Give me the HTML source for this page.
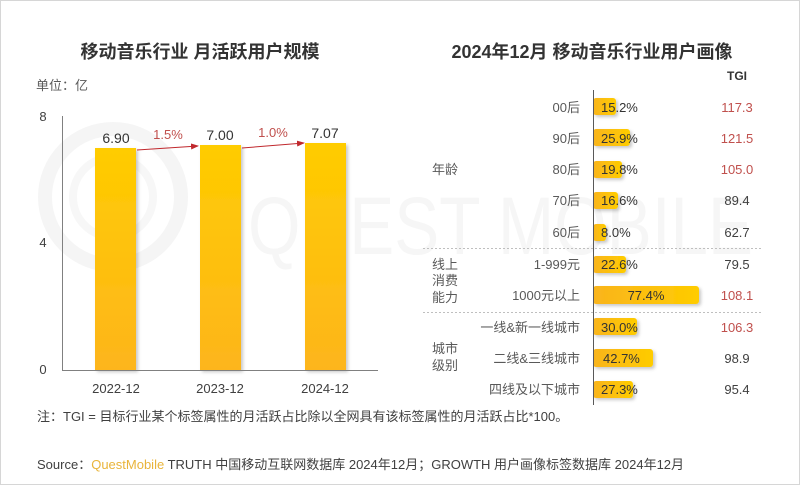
<!DOCTYPE html>
<html><head><meta charset="utf-8">
<style>
html,body{margin:0;padding:0;background:#fff;}
svg{display:block;}
text{font-family:"Liberation Sans","Noto Sans CJK SC",sans-serif;}
</style></head>
<body>
<svg width="800" height="485" viewBox="0 0 800 485" xmlns="http://www.w3.org/2000/svg">
<defs>
<linearGradient id="vg" x1="0" y1="0" x2="0" y2="1">
<stop offset="0" stop-color="#FFCC00"/><stop offset="1" stop-color="#FDB51C"/>
</linearGradient>
<linearGradient id="hg" x1="0" y1="0" x2="1" y2="0">
<stop offset="0" stop-color="#F9B41C"/><stop offset="1" stop-color="#FFCC00"/>
</linearGradient>
<filter id="sh" x="-20%" y="-20%" width="150%" height="150%">
<feDropShadow dx="2" dy="2" stdDeviation="1.5" flood-color="#000" flood-opacity="0.22"/>
</filter>
<marker id="ah" markerWidth="8" markerHeight="8" refX="7" refY="4" orient="auto" markerUnits="userSpaceOnUse">
<path d="M0,1 L8,4 L0,7 Z" fill="#C0282D"/>
</marker>
</defs>
<rect x="0.5" y="0.5" width="799" height="484" fill="#fff" stroke="#d6d6d6"/>

<!-- watermark -->
<g>
<circle cx="113" cy="197" r="68" fill="none" stroke="#f5f5f5" stroke-width="14"/>
<circle cx="113" cy="197" r="40" fill="none" stroke="#f7f7f7" stroke-width="8"/>
<text x="248" y="254" font-size="82" fill="#f6f6f6" textLength="505" lengthAdjust="spacingAndGlyphs" style="font-family:'Liberation Sans',sans-serif">QUEST MOBILE</text>
</g>

<!-- LEFT CHART -->
<text x="200" y="58" font-size="18" font-weight="700" fill="#333" text-anchor="middle">移动音乐行业 月活跃用户规模</text>
<text x="36" y="90" font-size="13" fill="#595959">单位：亿</text>

<text x="43" y="121" font-size="13" fill="#404040" text-anchor="middle">8</text>
<text x="43" y="247" font-size="13" fill="#404040" text-anchor="middle">4</text>
<text x="43" y="374" font-size="13" fill="#404040" text-anchor="middle">0</text>

<rect x="95" y="148" width="41" height="222" fill="url(#vg)" filter="url(#sh)"/>
<rect x="200" y="145" width="41" height="225" fill="url(#vg)" filter="url(#sh)"/>
<rect x="305" y="143" width="41" height="227" fill="url(#vg)" filter="url(#sh)"/>

<line x1="62.5" y1="116" x2="62.5" y2="370" stroke="#808080" stroke-width="1"/>
<line x1="62" y1="370.5" x2="378" y2="370.5" stroke="#808080" stroke-width="1"/>

<text x="116" y="143" font-size="14" fill="#333" text-anchor="middle">6.90</text>
<text x="220" y="140" font-size="14" fill="#333" text-anchor="middle">7.00</text>
<text x="325" y="138" font-size="14" fill="#333" text-anchor="middle">7.07</text>

<line x1="137" y1="150" x2="198" y2="146" stroke="#C0282D" stroke-width="1" marker-end="url(#ah)"/>
<line x1="242" y1="148" x2="304" y2="143" stroke="#C0282D" stroke-width="1" marker-end="url(#ah)"/>
<text x="168" y="139" font-size="13" fill="#C0504D" text-anchor="middle">1.5%</text>
<text x="273" y="137" font-size="13" fill="#C0504D" text-anchor="middle">1.0%</text>

<text x="116" y="393" font-size="13" fill="#404040" text-anchor="middle">2022-12</text>
<text x="220" y="393" font-size="13" fill="#404040" text-anchor="middle">2023-12</text>
<text x="325" y="393" font-size="13" fill="#404040" text-anchor="middle">2024-12</text>

<text x="37" y="421" font-size="13" fill="#404040">注：TGI = 目标行业某个标签属性的月活跃占比除以全网具有该标签属性的月活跃占比*100。</text>
<text x="37" y="469" font-size="13" fill="#404040">Source：<tspan fill="#E9B43A">QuestMobile</tspan> TRUTH 中国移动互联网数据库 2024年12月；GROWTH 用户画像标签数据库 2024年12月</text>

<!-- RIGHT CHART -->
<text x="592" y="58" font-size="18" font-weight="700" fill="#333" text-anchor="middle">2024年12月 移动音乐行业用户画像</text>
<text x="737" y="80" font-size="12" font-weight="700" fill="#333" text-anchor="middle">TGI</text>

<line x1="423" y1="248.5" x2="763" y2="248.5" stroke="#bfbfbf" stroke-dasharray="2,2"/>
<line x1="423" y1="312.5" x2="763" y2="312.5" stroke="#bfbfbf" stroke-dasharray="2,2"/>

<g font-size="13" fill="#595959" text-anchor="end">
<text x="580" y="112">00后</text>
<text x="580" y="143">90后</text>
<text x="580" y="174">80后</text>
<text x="580" y="205">70后</text>
<text x="580" y="237">60后</text>
<text x="580" y="269">1-999元</text>
<text x="580" y="300">1000元以上</text>
<text x="580" y="332">一线&amp;新一线城市</text>
<text x="580" y="363">二线&amp;三线城市</text>
<text x="580" y="394">四线及以下城市</text>
</g>
<g font-size="13" fill="#595959">
<text x="432" y="174">年龄</text>
<text x="432" y="269">线上</text>
<text x="432" y="285">消费</text>
<text x="432" y="302">能力</text>
<text x="432" y="353">城市</text>
<text x="432" y="370">级别</text>
</g>

<g filter="url(#sh)">
<rect x="593" y="98" width="23" height="17" rx="3" fill="url(#hg)"/>
<rect x="593" y="129" width="37" height="17" rx="3" fill="url(#hg)"/>
<rect x="593" y="161" width="29" height="17" rx="3" fill="url(#hg)"/>
<rect x="593" y="192" width="25" height="17" rx="3" fill="url(#hg)"/>
<rect x="593" y="224" width="13" height="17" rx="3" fill="url(#hg)"/>
<rect x="593" y="256" width="33" height="17" rx="3" fill="url(#hg)"/>
<rect x="593" y="286" width="106" height="18" rx="3" fill="url(#hg)"/>
<rect x="593" y="318" width="44" height="17" rx="3" fill="url(#hg)"/>
<rect x="593" y="349" width="60" height="18" rx="3" fill="url(#hg)"/>
<rect x="593" y="381" width="40" height="17" rx="3" fill="url(#hg)"/>
</g>
<line x1="593.5" y1="90" x2="593.5" y2="405" stroke="#595959" stroke-width="1"/>

<g font-size="13" fill="#333">
<text x="601" y="112">15.2%</text>
<text x="601" y="143">25.9%</text>
<text x="601" y="174">19.8%</text>
<text x="601" y="205">16.6%</text>
<text x="601" y="237">8.0%</text>
<text x="601" y="269">22.6%</text>
<text x="646" y="300" text-anchor="middle">77.4%</text>
<text x="601" y="332">30.0%</text>
<text x="603" y="363">42.7%</text>
<text x="601" y="394">27.3%</text>
</g>

<g font-size="13" text-anchor="middle">
<text x="737" y="112" fill="#C0504D">117.3</text>
<text x="737" y="143" fill="#C0504D">121.5</text>
<text x="737" y="174" fill="#C0504D">105.0</text>
<text x="737" y="205" fill="#404040">89.4</text>
<text x="737" y="237" fill="#404040">62.7</text>
<text x="737" y="269" fill="#404040">79.5</text>
<text x="737" y="300" fill="#C0504D">108.1</text>
<text x="737" y="332" fill="#C0504D">106.3</text>
<text x="737" y="363" fill="#404040">98.9</text>
<text x="737" y="394" fill="#404040">95.4</text>
</g>
</svg>
</body></html>
